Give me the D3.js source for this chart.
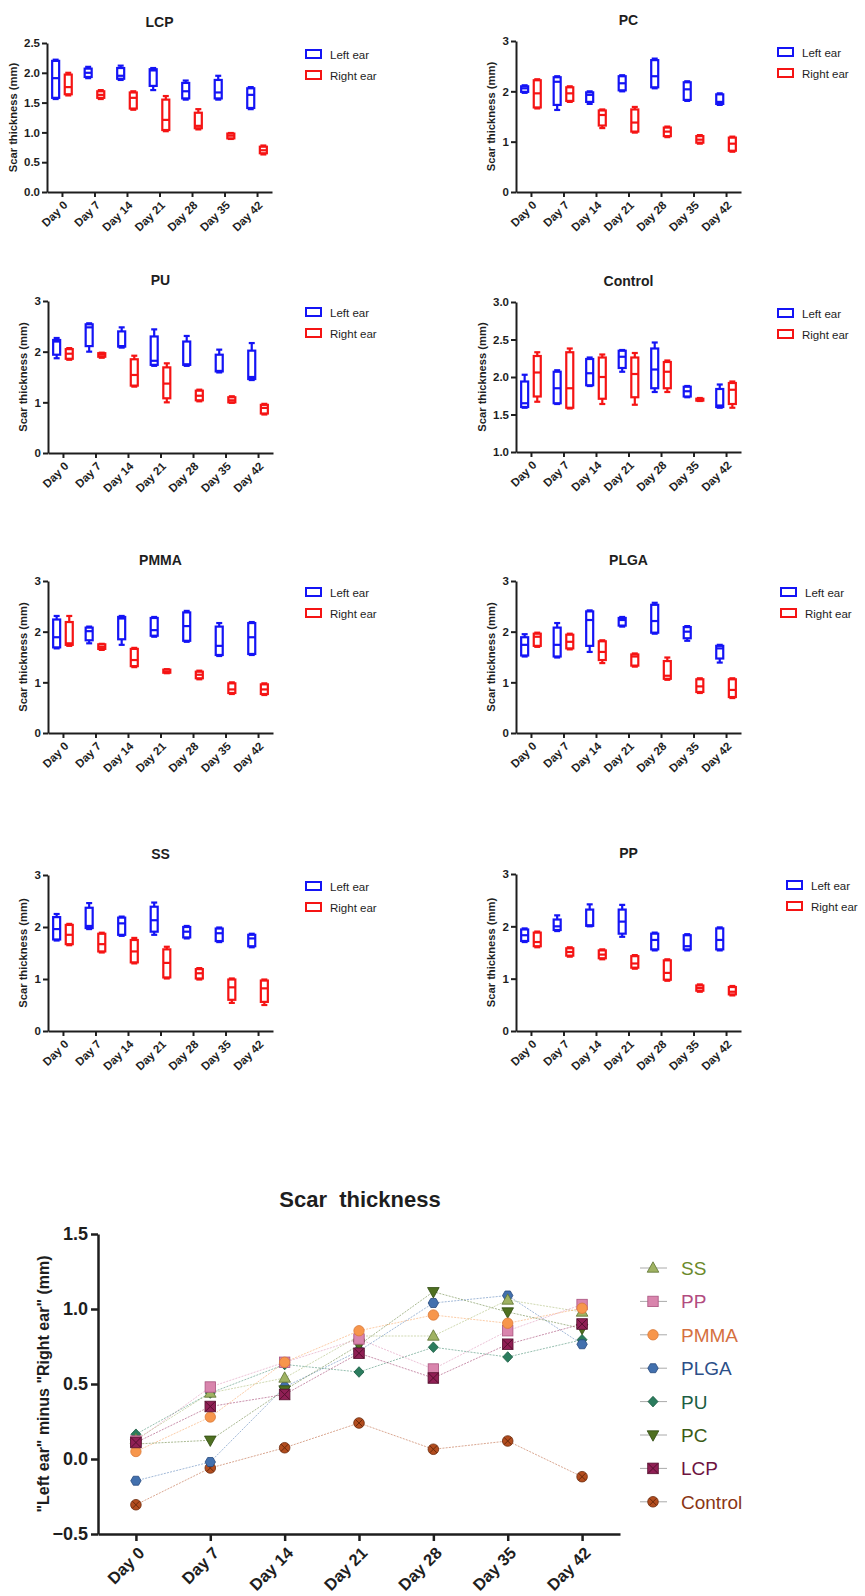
<!DOCTYPE html>
<html><head><meta charset="utf-8">
<script src="https://cdn.jsdelivr.net/npm/d3@7"></script>
<style>body{margin:0;background:#fff}svg{display:block}text{font-family:"Liberation Sans",Arial,sans-serif}</style>
</head><body><svg id="c" width="865" height="1596"></svg>
<script>
const days = ["Day 0","Day 7","Day 14","Day 21","Day 28","Day 35","Day 42"];
const legendLabels = ["Left ear","Right ear"];
// box stats per day: [min, q1, median, q3, max]
const lcpLeft = [[1.56,1.58,1.91,2.20,2.22],[1.91,1.93,2.00,2.07,2.10],[1.88,1.90,1.95,2.08,2.12],[1.71,1.78,2.04,2.06,2.08],[1.55,1.57,1.69,1.83,1.87],[1.55,1.57,1.67,1.88,1.95],[1.39,1.41,1.63,1.74,1.76]];
const lcpRight = [[1.62,1.64,1.76,1.97,2.00],[1.56,1.58,1.63,1.69,1.71],[1.38,1.40,1.58,1.67,1.69],[1.02,1.04,1.21,1.55,1.61],[1.05,1.07,1.11,1.33,1.39],[0.89,0.90,0.945,0.98,0.99],[0.63,0.65,0.70,0.76,0.78]];
const pcLeft = [[1.97,1.99,2.06,2.10,2.12],[1.63,1.73,2.19,2.28,2.30],[1.75,1.79,1.93,1.98,2.00],[2.00,2.02,2.16,2.30,2.32],[2.06,2.08,2.30,2.62,2.65],[1.81,1.83,2.04,2.18,2.20],[1.73,1.75,1.79,1.94,1.96]];
const pcRight = [[1.66,1.68,1.96,2.22,2.24],[1.79,1.81,1.96,2.08,2.10],[1.27,1.32,1.53,1.62,1.64],[1.18,1.20,1.38,1.64,1.69],[1.09,1.11,1.20,1.28,1.30],[0.96,0.98,1.04,1.11,1.13],[0.80,0.82,0.96,1.08,1.10]];
const puLeft = [[1.87,1.94,2.20,2.23,2.27],[2.00,2.11,2.48,2.54,2.56],[2.08,2.10,2.11,2.40,2.48],[1.72,1.74,1.82,2.30,2.44],[1.72,1.74,1.75,2.20,2.31],[1.59,1.61,1.62,1.94,2.04],[1.44,1.46,1.50,2.02,2.17]];
const puRight = [[1.84,1.86,1.96,2.05,2.07],[1.88,1.90,1.94,1.97,1.98],[1.31,1.33,1.54,1.85,1.92],[1.00,1.08,1.37,1.69,1.77],[1.02,1.04,1.13,1.23,1.25],[0.99,1.00,1.04,1.10,1.12],[0.76,0.78,0.89,0.95,0.97]];
const controlLeft = [[1.59,1.60,1.65,1.94,2.03],[1.64,1.65,1.85,2.07,2.09],[1.88,1.89,2.05,2.24,2.26],[2.07,2.12,2.27,2.35,2.36],[1.80,1.85,2.10,2.38,2.46],[1.73,1.74,1.81,1.87,1.88],[1.59,1.60,1.62,1.84,1.90]];
const controlRight = [[1.67,1.74,2.06,2.28,2.33],[1.58,1.59,1.85,2.33,2.38],[1.64,1.71,2.00,2.26,2.30],[1.63,1.73,2.04,2.26,2.32],[1.80,1.85,2.07,2.20,2.22],[1.68,1.685,1.70,1.71,1.72],[1.59,1.64,1.83,1.92,1.94]];
const pmmaLeft = [[1.67,1.69,1.89,2.24,2.31],[1.77,1.83,2.01,2.08,2.10],[1.74,1.85,2.26,2.29,2.31],[1.90,1.92,2.03,2.27,2.29],[1.80,1.82,2.11,2.38,2.41],[1.52,1.54,1.72,2.10,2.17],[1.54,1.56,1.89,2.17,2.19]];
const pmmaRight = [[1.72,1.74,1.77,2.19,2.31],[1.64,1.66,1.70,1.75,1.76],[1.30,1.32,1.44,1.66,1.68],[1.18,1.19,1.21,1.25,1.26],[1.06,1.08,1.15,1.21,1.23],[0.77,0.79,0.86,0.98,1.00],[0.75,0.77,0.86,0.96,0.98]];
const plgaLeft = [[1.51,1.53,1.74,1.89,1.95],[1.49,1.51,1.74,2.08,2.17],[1.60,1.72,2.23,2.40,2.42],[2.10,2.12,2.23,2.27,2.29],[1.96,1.98,2.21,2.53,2.57],[1.82,1.87,2.00,2.09,2.11],[1.39,1.47,1.67,1.72,1.74]];
const plgaRight = [[1.70,1.72,1.90,1.96,1.98],[1.65,1.67,1.80,1.94,1.96],[1.38,1.44,1.60,1.81,1.83],[1.31,1.33,1.51,1.55,1.57],[1.05,1.07,1.13,1.42,1.49],[0.79,0.81,0.92,1.06,1.08],[0.69,0.71,0.85,1.06,1.08]];
const ssLeft = [[1.74,1.76,1.96,2.19,2.25],[1.96,1.98,2.02,2.37,2.46],[1.83,1.85,2.07,2.18,2.20],[1.85,1.91,2.13,2.39,2.47],[1.78,1.80,1.91,2.00,2.02],[1.71,1.73,1.88,1.97,1.99],[1.61,1.63,1.78,1.85,1.87]];
const ssRight = [[1.65,1.67,1.85,2.04,2.06],[1.51,1.53,1.67,1.87,1.89],[1.30,1.32,1.53,1.75,1.79],[1.01,1.03,1.31,1.57,1.62],[0.99,1.01,1.11,1.19,1.21],[0.54,0.60,0.84,0.99,1.01],[0.50,0.56,0.82,0.97,0.99]];
const ppLeft = [[1.70,1.72,1.83,1.94,1.96],[1.91,1.93,2.00,2.13,2.21],[2.00,2.01,2.02,2.32,2.42],[1.80,1.86,2.09,2.32,2.41],[1.54,1.56,1.74,1.86,1.88],[1.54,1.56,1.62,1.83,1.85],[1.54,1.56,1.74,1.96,1.98]];
const ppRight = [[1.60,1.62,1.70,1.88,1.90],[1.42,1.44,1.51,1.58,1.60],[1.37,1.39,1.46,1.54,1.56],[1.19,1.21,1.29,1.43,1.45],[0.96,0.98,1.11,1.35,1.37],[0.75,0.77,0.82,0.87,0.89],[0.68,0.70,0.75,0.84,0.86]];

// "Left ear" minus "Right ear" (mm)
const ssDiff = [0.13,0.44,0.54,0.82,0.82,1.06,0.98];
const ppDiff = [0.12,0.48,0.645,0.80,0.60,0.855,1.03];
const pmmaDiff = [0.05,0.28,0.645,0.855,0.96,0.905,1.005];
const plgaDiff = [-0.145,-0.02,0.48,0.72,1.04,1.09,0.765];
const puDiff = [0.165,0.44,0.63,0.58,0.745,0.68,0.795];
const pcDiff = [0.10,0.125,0.46,0.76,1.115,0.98,0.87];
const lcpDiff = [0.11,0.35,0.43,0.705,0.54,0.765,0.90];
const controlDiff = [-0.305,-0.06,0.075,0.24,0.065,0.12,-0.118];
const diffTicks = [-0.5,0,0.5,1,1.5];

const svg = d3.select("#c");
svg.append("rect").attr("width",865).attr("height",1596).attr("fill","#fff");
const BLUE = "#1414f5", RED = "#f51414", INK = "#1e1e1e";

const panels = [
  {title:"LCP", left:lcpLeft, right:lcpRight, ax:47, top:43, bottom:192, dom:[0,2.5], ticks:[0,0.5,1,1.5,2,2.5], fmt:".1f", lx:305},
  {title:"PC", left:pcLeft, right:pcRight, ax:516, top:41, bottom:192, dom:[0,3], ticks:[0,1,2,3], fmt:"d", lx:777},
  {title:"PU", left:puLeft, right:puRight, ax:48, top:301, bottom:453, dom:[0,3], ticks:[0,1,2,3], fmt:"d", lx:305},
  {title:"Control", left:controlLeft, right:controlRight, ax:516, top:302, bottom:452, dom:[1,3], ticks:[1,1.5,2,2.5,3], fmt:".1f", lx:777},
  {title:"PMMA", left:pmmaLeft, right:pmmaRight, ax:48, top:581, bottom:733, dom:[0,3], ticks:[0,1,2,3], fmt:"d", lx:305},
  {title:"PLGA", left:plgaLeft, right:plgaRight, ax:516, top:581, bottom:733, dom:[0,3], ticks:[0,1,2,3], fmt:"d", lx:780},
  {title:"SS", left:ssLeft, right:ssRight, ax:48, top:875, bottom:1031, dom:[0,3], ticks:[0,1,2,3], fmt:"d", lx:305},
  {title:"PP", left:ppLeft, right:ppRight, ax:516, top:874, bottom:1031, dom:[0,3], ticks:[0,1,2,3], fmt:"d", lx:786}
];

function styleAxis(g, sw){
  g.select(".domain").attr("stroke",INK).attr("stroke-width",sw);
  g.selectAll(".tick line").attr("stroke",INK).attr("stroke-width",sw);
  g.selectAll(".tick text").attr("fill",INK).attr("font-weight","bold");
}

panels.forEach(p=>{
  const W = 225;
  const x = d3.scalePoint().domain(days).range([p.ax, p.ax+W]).padding(0.46);
  const y = d3.scaleLinear().domain(p.dom).range([p.bottom, p.top]);
  const g = svg.append("g");
  g.append("text").attr("x", p.ax+W/2).attr("y", p.top-16).attr("text-anchor","middle")
    .attr("font-size",14).attr("font-weight","bold").attr("fill",INK).text(p.title);
  const bw = 7, off = 6.3, cap = 6;
  [[p.left,-off,BLUE],[p.right,off,RED]].forEach(([data,dx,col])=>{
    data.forEach((s,i)=>{
      const cx = x(days[i])+dx;
      const [mn,q1,md,q3,mx] = s;
      const bg = g.append("g").attr("stroke",col).attr("stroke-width",2.2).attr("fill","none");
      bg.append("line").attr("x1",cx).attr("x2",cx).attr("y1",y(q3)).attr("y2",y(mx));
      bg.append("line").attr("x1",cx).attr("x2",cx).attr("y1",y(q1)).attr("y2",y(mn));
      bg.append("line").attr("x1",cx-cap/2).attr("x2",cx+cap/2).attr("y1",y(mx)).attr("y2",y(mx));
      bg.append("line").attr("x1",cx-cap/2).attr("x2",cx+cap/2).attr("y1",y(mn)).attr("y2",y(mn));
      bg.append("rect").attr("x",cx-bw/2).attr("y",y(q3)).attr("width",bw).attr("height",Math.max(0.5,y(q1)-y(q3))).attr("fill","#fff");
      bg.append("line").attr("x1",cx-bw/2).attr("x2",cx+bw/2).attr("y1",y(md)).attr("y2",y(md));
    });
  });
  const ya = g.append("g").attr("transform",`translate(${p.ax},0)`)
    .call(d3.axisLeft(y).tickValues(p.ticks).tickFormat(d3.format(p.fmt)).tickSize(5).tickSizeOuter(0));
  ya.selectAll("text").attr("font-size",11.5).attr("x",-7);
  styleAxis(ya,2);
  const xa = g.append("g").attr("transform",`translate(0,${p.bottom})`)
    .call(d3.axisBottom(x).tickSize(5).tickSizeOuter(0));
  xa.selectAll("text").attr("font-size",11.5).attr("x",0).attr("y",0).attr("dy","0.35em")
    .attr("text-anchor","end").attr("transform","translate(3,11) rotate(-45)");
  styleAxis(xa,2);
  const lxOff = p.fmt === ".1f" ? 34 : 25;
  g.append("text").attr("transform",`translate(${p.ax-lxOff},${(p.top+p.bottom)/2}) rotate(-90)`)
    .attr("dy","0.35em").attr("text-anchor","middle").attr("font-size",11.2).attr("font-weight","bold")
    .attr("fill",INK).text("Scar thickness (mm)");
  legendLabels.forEach((lab,k)=>{
    const ly = p.top + 11 + k*21;
    g.append("rect").attr("x",p.lx+1).attr("y",ly-4).attr("width",15).attr("height",8)
      .attr("fill","none").attr("stroke",k?RED:BLUE).attr("stroke-width",2);
    g.append("text").attr("x",p.lx+25).attr("y",ly+4.5).attr("font-size",11.5).attr("fill",INK).text(lab);
  });
});

// ---------- Bottom chart ----------
const series = [
  {name:"SS", vals:ssDiff, shape:"triUp", fill:"#9fb262", stroke:"#5d7232", text:"#6b8a2c"},
  {name:"PP", vals:ppDiff, shape:"square", fill:"#d985ad", stroke:"#a9537f", text:"#b24c80"},
  {name:"PMMA", vals:pmmaDiff, shape:"circle", fill:"#f7964c", stroke:"#d97a3a", text:"#d5703f"},
  {name:"PLGA", vals:plgaDiff, shape:"hex", fill:"#4270ae", stroke:"#27497c", text:"#2c4f88"},
  {name:"PU", vals:puDiff, shape:"diamond", fill:"#2b7c5e", stroke:"#195a40", text:"#1c5e44"},
  {name:"PC", vals:pcDiff, shape:"triDown", fill:"#4f7021", stroke:"#2f4a10", text:"#3b5b16"},
  {name:"LCP", vals:lcpDiff, shape:"squareX", fill:"#901f55", stroke:"#55102e", text:"#6e1340"},
  {name:"Control", vals:controlDiff, shape:"circleX", fill:"#b24c1e", stroke:"#6b2a0b", text:"#8a3515"}
];
const drawOrder = ["Control","PU","PLGA","SS","PC","PP","PMMA","LCP"];

function marker(g, shape, cx, cy, fill, stroke){
  const m = g.append("g").attr("transform",`translate(${cx},${cy})`).attr("stroke",stroke).attr("stroke-width",0.8).attr("fill",fill);
  if(shape==="triUp") m.append("path").attr("d","M0,-6.2L5.8,4.2L-5.8,4.2Z");
  else if(shape==="triDown") m.append("path").attr("d","M0,6.2L5.8,-4.2L-5.8,-4.2Z");
  else if(shape==="square") m.append("rect").attr("x",-5.2).attr("y",-5.2).attr("width",10.4).attr("height",10.4);
  else if(shape==="circle") m.append("circle").attr("r",5.2);
  else if(shape==="diamond") m.append("path").attr("d","M0,-5.3L5,0L0,5.3L-5,0Z");
  else if(shape==="hex"){
    const pts = d3.range(6).map(k=>{const a=Math.PI/3*k; return [5.2*Math.cos(a),5.2*Math.sin(a)];});
    m.append("path").attr("d","M"+pts.map(q=>q.join(",")).join("L")+"Z");
  }
  else if(shape==="squareX"){
    m.append("rect").attr("x",-5.3).attr("y",-5.3).attr("width",10.6).attr("height",10.6);
    m.append("path").attr("d","M-5,-5L5,5M5,-5L-5,5").attr("fill","none").attr("stroke-width",1);
  }
  else if(shape==="circleX"){
    m.append("circle").attr("r",5.3);
    m.append("path").attr("d","M-3.6,-3.6L3.6,3.6M3.6,-3.6L-3.6,3.6").attr("fill","none").attr("stroke-width",1);
  }
}

const bx = d3.scalePoint().domain(days).range([98,620]).padding(0.51);
const by = d3.scaleLinear().domain([-0.5,1.5]).range([1534,1234]);
const bg = svg.append("g");
bg.append("text").attr("x",360).attr("y",1207).attr("text-anchor","middle").attr("font-size",22)
  .attr("font-weight","bold").attr("fill",INK).style("white-space","pre").text("Scar  thickness");

const line = d3.line().x((d,i)=>bx(days[i])).y(d=>by(d));
series.forEach(s=>{
  bg.append("path").attr("d",line(s.vals)).attr("fill","none").attr("stroke",s.fill)
    .attr("stroke-opacity",0.55).attr("stroke-width",0.9).attr("stroke-dasharray","2,1.2");
});
drawOrder.forEach(n=>{
  const s = series.find(t=>t.name===n);
  s.vals.forEach((v,i)=>marker(bg,s.shape,bx(days[i]),by(v),s.fill,s.stroke));
});

const bya = bg.append("g").attr("transform","translate(98,0)")
  .call(d3.axisLeft(by).tickValues(diffTicks).tickFormat(d3.format(".1f")).tickSize(7).tickSizeOuter(0));
bya.selectAll("text").attr("font-size",18).attr("x",-10);
styleAxis(bya,2.5);
const bxa = bg.append("g").attr("transform","translate(0,1534)")
  .call(d3.axisBottom(bx).tickSize(7).tickSizeOuter(0));
bxa.selectAll("text").attr("font-size",16.5).attr("x",0).attr("y",0).attr("dy","0.35em")
  .attr("text-anchor","end").attr("transform","translate(5,16) rotate(-45)");
styleAxis(bxa,2.5);
bg.append("text").attr("transform",`translate(43,1384) rotate(-90)`).attr("dy","0.35em")
  .attr("text-anchor","middle").attr("font-size",16).attr("font-weight","bold").attr("fill",INK)
  .text('"Left ear" minus "Right ear" (mm)');

series.forEach((s,k)=>{
  const ly = 1268 + k*33.4;
  bg.append("line").attr("x1",640).attr("x2",667).attr("y1",ly).attr("y2",ly).attr("stroke","#aaa").attr("stroke-width",1);
  marker(bg,s.shape,653,ly,s.fill,s.stroke);
  bg.append("text").attr("x",681).attr("y",ly+7).attr("font-size",19).attr("fill",s.text).text(s.name);
});
</script></body></html>
